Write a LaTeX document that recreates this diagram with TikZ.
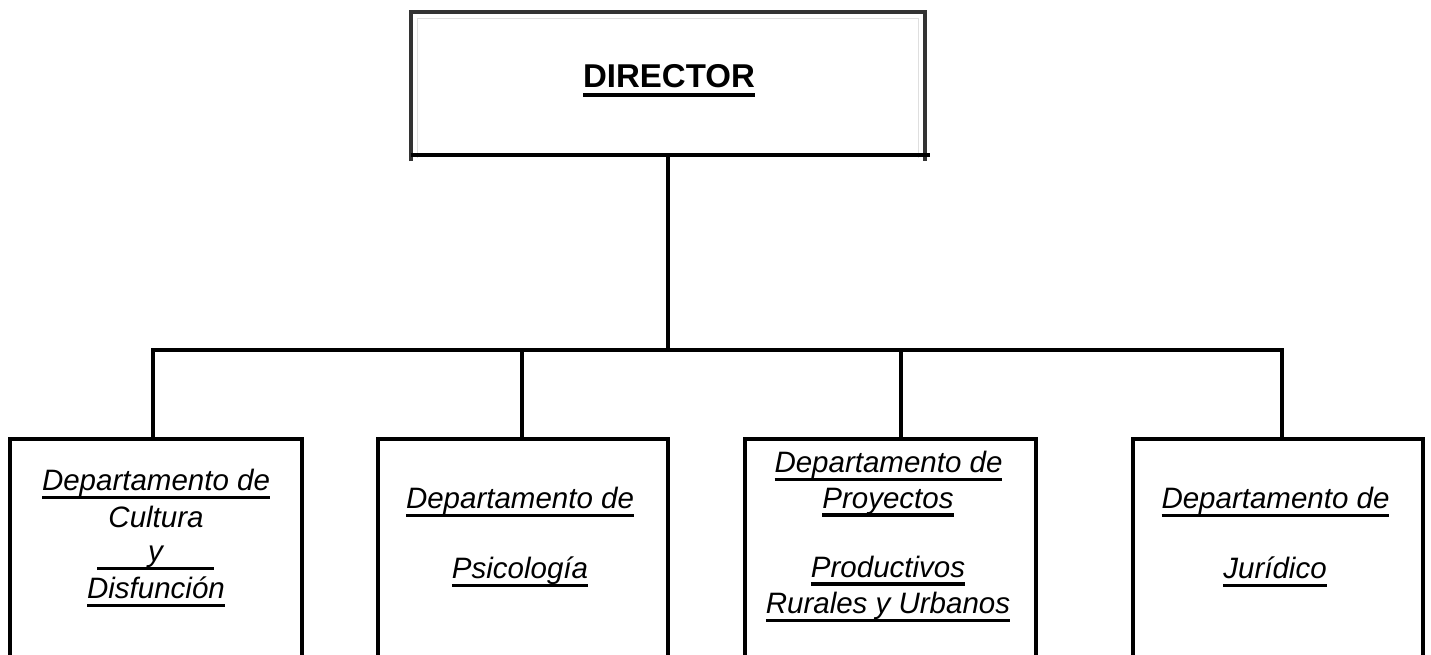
\documentclass[tikz,border=0pt]{standalone}
\usepackage{fontspec}
\setmainfont{Liberation Sans}
\usetikzlibrary{calc}
\newcommand{\ulin}[2][3]{\leavevmode\setbox0\hbox{#2}\rlap{\rule[\dimexpr-7pt-#1pt/2\relax]{\wd0}{#1pt}}\box0}
\newcommand{\ulwide}[2]{\leavevmode\rlap{\rule[-8.5pt]{#1}{3pt}}\makebox[#1]{#2}}
\newcommand{\deptfont}{\fontsize{29.5pt}{35pt}\selectfont\itshape}
\newcommand{\dirfont}{\fontsize{33pt}{38pt}\selectfont\bfseries}
\begin{document}
\begin{tikzpicture}[x=1pt,y=1pt,
  deptbox/.style={draw=black,line width=4pt,minimum width=#1,minimum height=300pt,anchor=north,inner sep=0pt},
  conn/.style={draw=black,line width=4pt},
  dtext/.style={anchor=base,inner sep=0pt,font=\deptfont},
  dirside/.style={draw=black!80,line width=3.5pt},
]
\useasboundingbox (0,0) rectangle (1431,-655);
\clip (0,0) rectangle (1431,-655);
\fill[white] (0,0) rectangle (1431,-655);

% Director
\node[minimum width=514pt,minimum height=143pt,inner sep=0pt] (dir) at (668,-83.5) {};
\draw[gray!25,line width=1pt] ([xshift=7pt,yshift=-3pt]dir.south west) |- ([yshift=-7pt]dir.north) -| ([xshift=-7pt,yshift=-3pt]dir.south east);
\draw[dirside] ([yshift=-6pt]dir.south west) -- (dir.north west) -- (dir.north east) -- ([yshift=-6pt]dir.south east);
\draw[conn] (dir.south west) -- ([xshift=5pt]dir.south east);
\node[anchor=base,inner sep=0pt,font=\dirfont] (dirt) at (669,-88) {\ulin[4]{DIRECTOR}};

% Departments
\node[deptbox=292pt] (d1) at (156,-437) {};
\node[deptbox=290pt] (d2) at (523,-437) {};
\node[deptbox=291pt] (d3) at (890.5,-437) {};
\node[deptbox=290pt] (d4) at (1278,-437) {};

% Connectors
\coordinate (bus) at (668,-350);
\draw[conn] (dir.south) -- (bus);
\draw[conn,line join=miter] ([xshift=-3pt]d1.north) |- (bus) -| ([xshift=4pt]d4.north);
\draw[conn] ([xshift=-1pt]d2.north) -- ([xshift=-1pt]d2.north |- bus);
\draw[conn] ([xshift=10.5pt]d3.north) -- ([xshift=10.5pt]d3.north |- bus);

% Texts box 1
\node[dtext] (t1a) at (156,-490) {\ulin{Departamento de}};
\node[dtext] (t1b) at (156,-527) {Cultura};
\node[dtext] (t1c) at (155.5,-561) {\ulwide{117pt}{y}};
\node[dtext] (t1d) at (156,-598) {\ulin{Disfunción}};

% Texts box 2
\node[dtext] (t2a) at (520,-508) {\ulin{Departamento de}};
\node[dtext] (t2b) at (520,-578) {\ulin{Psicología}};

% Texts box 3
\node[dtext] (t3a) at (888.5,-472) {\ulin{Departamento de}};
\node[dtext] (t3b) at (888,-508) {\ulin[4.5]{Proyectos}};
\node[dtext] (t3c) at (888,-577) {\ulin[4.5]{Productivos}};
\node[dtext] (t3d) at (888,-613) {\ulin{Rurales y Urbanos}};

% Texts box 4
\node[dtext] (t4a) at (1275.5,-508) {\ulin{Departamento de}};
\node[dtext] (t4b) at (1275,-578) {\ulin{Jurídico}};
\end{tikzpicture}
\end{document}
